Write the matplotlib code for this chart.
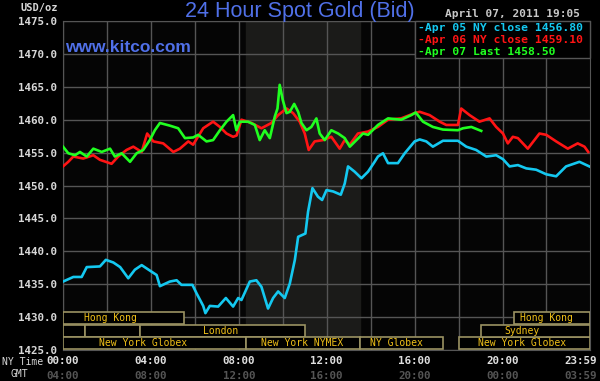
"""
Kitco style 24 hour spot gold chart
"""
import matplotlib.pyplot as plt
import matplotlib.patches as patches
from matplotlib import transforms

# time in hours (NY time), prices in USD/oz
apr05_hours = [0.0, 0.47, 0.85, 1.08, 1.68, 1.95, 2.29, 2.6, 2.97, 3.27, 3.58, 4.03, 4.26, 4.41,
               4.86, 5.17, 5.39, 5.89, 6.08, 6.38, 6.48, 6.68, 7.06, 7.41, 7.74, 7.97, 8.12, 8.5,
               8.8, 9.03, 9.33, 9.56, 9.79, 10.09, 10.32, 10.55, 10.7, 11.03, 11.15, 11.35, 11.6,
               11.79, 11.99, 12.29, 12.64, 12.82, 12.97, 13.27, 13.58, 13.88, 14.18, 14.33, 14.56,
               14.79, 15.24, 15.55, 16.0, 16.23, 16.53, 16.83, 17.29, 17.97, 18.35, 18.8, 19.26,
               19.71, 20.02, 20.32, 20.7, 21.08, 21.53, 21.99, 22.44, 22.89, 23.5, 23.95]
apr05_price = [1435.4, 1436.1, 1436.1, 1437.6, 1437.7, 1438.7, 1438.3, 1437.6, 1435.9, 1437.2,
               1437.9, 1436.9, 1436.4, 1434.7, 1435.4, 1435.6, 1434.9, 1434.9, 1433.6, 1431.7,
               1430.6, 1431.7, 1431.6, 1432.9, 1431.6, 1432.9, 1432.6, 1435.4, 1435.6, 1434.6,
               1431.3, 1432.9, 1433.9, 1432.9, 1435.1, 1438.7, 1442.2, 1442.7, 1446.0, 1449.6,
               1448.3, 1447.8, 1449.3, 1449.1, 1448.6, 1450.3, 1452.9, 1452.1, 1451.1, 1452.1,
               1453.6, 1454.4, 1454.9, 1453.4, 1453.4, 1454.9, 1456.7, 1457.0, 1456.7, 1455.9,
               1456.8, 1456.8, 1455.9, 1455.4, 1454.4, 1454.6, 1454.0, 1452.9, 1453.1, 1452.6,
               1452.4, 1451.7, 1451.4, 1452.9, 1453.6, 1452.9]

apr06_hours = [0.0, 0.24, 0.47, 0.92, 1.38, 1.68, 2.21, 2.51, 2.89, 3.2, 3.58, 3.83, 4.11, 4.56,
               5.02, 5.32, 5.7, 5.92, 6.38, 6.83, 7.14, 7.44, 7.74, 7.9, 8.12, 8.58, 9.03, 9.48,
               9.79, 10.17, 10.47, 10.77, 11.0, 11.18, 11.45, 11.83, 12.21, 12.59, 12.82, 13.05,
               13.42, 13.88, 14.33, 14.79, 15.39, 16.0, 16.23, 16.68, 17.14, 17.44, 17.97, 18.12,
               18.5, 18.95, 19.41, 19.71, 20.02, 20.24, 20.47, 20.7, 21.15, 21.68, 21.99, 22.44,
               22.97, 23.42, 23.73, 23.9]
apr06_price = [1452.9, 1453.6, 1454.4, 1454.1, 1454.6, 1453.9, 1453.3, 1454.4, 1455.4, 1455.9,
               1455.1, 1457.9, 1456.7, 1456.4, 1455.1, 1455.6, 1456.7, 1456.2, 1458.7, 1459.7,
               1458.9, 1457.9, 1457.4, 1457.6, 1460.0, 1459.5, 1458.7, 1459.5, 1460.7, 1461.7,
               1461.0, 1459.7, 1457.9, 1455.4, 1456.7, 1456.9, 1457.4, 1455.6, 1456.9, 1456.2,
               1457.9, 1458.2, 1458.9, 1460.0, 1460.2, 1461.0, 1461.2, 1460.7, 1459.7, 1459.2,
               1459.2, 1461.7, 1460.7, 1459.7, 1460.2, 1458.9, 1457.9, 1456.4, 1457.4, 1457.2,
               1455.6, 1457.9, 1457.7, 1456.7, 1455.6, 1456.4, 1455.9, 1455.1]

apr07_hours = [0.0, 0.24, 0.55, 0.77, 1.08, 1.38, 1.76, 2.14, 2.36, 2.67, 3.05, 3.35, 3.65, 3.95,
               4.18, 4.41, 4.86, 5.24, 5.55, 5.92, 6.15, 6.53, 6.83, 7.14, 7.44, 7.74, 7.89, 8.05,
               8.42, 8.73, 8.95, 9.18, 9.41, 9.64, 9.76, 9.86, 10.0, 10.17, 10.32, 10.52, 10.7,
               10.85, 11.08, 11.3, 11.53, 11.68, 11.91, 12.21, 12.52, 12.82, 13.05, 13.35, 13.65,
               13.88, 14.33, 14.79, 15.39, 15.85, 16.05, 16.38, 16.83, 17.29, 17.97, 18.2, 18.58,
               19.03]
apr07_price = [1455.9, 1454.9, 1454.6, 1455.1, 1454.4, 1455.6, 1455.1, 1455.6, 1454.4, 1454.9,
               1453.6, 1454.9, 1455.4, 1456.9, 1458.4, 1459.5, 1459.1, 1458.7, 1457.2, 1457.3,
               1457.7, 1456.7, 1456.9, 1458.4, 1459.7, 1460.7, 1458.4, 1459.7, 1459.7, 1459.2,
               1456.9, 1458.4, 1457.2, 1460.5, 1461.7, 1465.3, 1463.0, 1461.0, 1461.2, 1462.4,
               1461.2, 1459.5, 1458.4, 1458.9, 1460.2, 1457.9, 1456.9, 1458.4, 1457.9, 1457.2,
               1455.9, 1456.9, 1457.9, 1457.7, 1459.2, 1460.2, 1460.0, 1460.7, 1461.1, 1459.7,
               1458.9, 1458.5, 1458.4, 1458.7, 1458.9, 1458.3]

legend_labels = ["-Apr 05 NY close 1456.80", "-Apr 06 NY close 1459.10", "-Apr 07 Last 1458.50"]

y_ticks = [1425, 1430, 1435, 1440, 1445, 1450, 1455, 1460, 1465, 1470, 1475]
ny_hours = [0, 4, 8, 12, 16, 20, 23.98]
ny_labels = ["00:00", "04:00", "08:00", "12:00", "16:00", "20:00", "23:59"]
gmt_labels = ["04:00", "08:00", "12:00", "16:00", "20:00", "00:00", "03:59"]

# trading sessions: (row, start hour, end hour, label)  row 0 is the bottom row
sessions = [
    (2, 0.0, 5.5, "Hong Kong"),
    (1, 0.0, 1.0, ""),
    (1, 1.0, 3.5, ""),
    (1, 3.5, 11.0, "London"),
    (0, 0.0, 8.33, "New York Globex"),
    (0, 8.33, 13.5, "New York NYMEX"),
    (0, 13.5, 17.3, "NY Globex"),
    (0, 18.0, 23.98, "New York Globex"),
    (1, 19.0, 23.98, "Sydney"),
    (2, 20.5, 23.98, "Hong Kong"),
]
label_pos = [2.15, None, None, 7.15, 3.65, 10.9, 15.15, 20.9, 20.9, 22.0]

nymex_open, nymex_close = 8.33, 13.5

bg = 'black'
grid_col = '#555555'
mono = 'DejaVu Sans Mono'

fig = plt.figure(figsize=(6, 3.81), dpi=100, facecolor=bg)
ax = fig.add_axes([63 / 600, 1 - 350 / 381, 527 / 600, 329 / 381], facecolor='#050505')

# shaded NYMEX pit session
ax.axvspan(nymex_open, nymex_close, color='#1b1b19', zorder=0)

ax.set_xlim(0, 23.98)
ax.set_ylim(1425, 1475)
ax.set_yticks(y_ticks)
ax.set_xticks(range(0, 24, 2))
ax.grid(True, color=grid_col, linewidth=1.0, zorder=1)
ax.tick_params(length=0, labelbottom=False)
ax.set_yticklabels([f"{v:.1f}" for v in y_ticks], fontfamily=mono, fontweight='bold',
                   fontsize=7.8, color='#d8d8d8')
ax.tick_params(axis='y', pad=4)
for s in ax.spines.values():
    s.set_color(grid_col)

# price lines
ax.plot(apr05_hours, apr05_price, color='#14c8f0', linewidth=1.9, zorder=5)
ax.plot(apr06_hours, apr06_price, color='#ff1414', linewidth=1.9, zorder=5)
ax.plot(apr07_hours, apr07_price, color='#20ff20', linewidth=1.9, zorder=6)

# session boxes along the bottom, x in hours and y in axes fraction
trans = transforms.blended_transform_factory(ax.transData, ax.transAxes)
row_bottom = [0.003, 0.040, 0.079]
row_h = 0.036
for (row, start, end, name), lx in zip(sessions, label_pos):
    rect = patches.Rectangle((start, row_bottom[row]), end - start, row_h, transform=trans,
                             facecolor='black', edgecolor='#9a9262', linewidth=1.2, zorder=3)
    ax.add_patch(rect)
    if name:
        ax.text(lx, row_bottom[row] + row_h / 2, name, transform=trans, ha='center',
                va='center', fontfamily=mono, fontsize=7, color='#f0c018', zorder=4)

# x labels, NY time on top and GMT underneath
# the last label sits left of the right edge so it isn't cut off
for i, (h, ny, gmt) in enumerate(zip(ny_hours, ny_labels, gmt_labels)):
    ha = 'right' if i == len(ny_hours) - 1 else 'center'
    x = h + 0.3 if i == len(ny_hours) - 1 else h
    ax.text(x, -0.032, ny, transform=trans, ha=ha, va='center', fontfamily=mono,
            fontweight='bold', fontsize=7.8, color='#e0e0e0')
    ax.text(x, -0.08, gmt, transform=trans, ha=ha, va='center', fontfamily=mono,
            fontweight='bold', fontsize=7.8, color='#555555')
fig.text(23 / 600, 1 - 362 / 381, "NY Time", ha='center', va='center', fontfamily=mono,
         fontsize=7, color='#d8d8d8')
fig.text(19 / 600, 1 - 374 / 381, "GMT", ha='center', va='center', fontfamily=mono,
         fontsize=7, color='#d8d8d8')

# headers
fig.text(39 / 600, 1 - 8 / 381, "USD/oz", ha='center', va='center', fontfamily=mono,
         fontweight='bold', fontsize=7.5, color='#d8d8d8')
fig.text(300 / 600, 1 - 11 / 381, "24 Hour Spot Gold (Bid)", ha='center', va='center',
         fontfamily='Liberation Sans', fontsize=15.5, color='#5070e8')
ax.text(65 / 600, 1 - 47 / 381, "www.kitco.com", transform=fig.transFigure, ha='left',
        va='center', fontfamily='Liberation Sans', fontweight='bold', fontsize=12.5,
        color='#5070e8', zorder=7)
fig.text(580 / 600, 1 - 14 / 381, "April 07, 2011 19:05", ha='right', va='center',
         fontfamily=mono, fontweight='bold', fontsize=8, color='#c8c8c8')

# legend box top right
leg = patches.Rectangle((415 / 600, 1 - 58 / 381), 175 / 600, 37 / 381, transform=fig.transFigure,
                        facecolor='black', edgecolor=grid_col, linewidth=1.0, zorder=8)
ax.add_patch(leg)
leg.set_clip_on(False)
for i, (lbl, col) in enumerate(zip(legend_labels, ['#14c8f0', '#ff1414', '#20ff20'])):
    ax.text(418 / 600, 1 - (28 + 12 * i) / 381, lbl, transform=fig.transFigure, ha='left',
            va='center', fontfamily=mono, fontweight='bold', fontsize=8.2, color=col, zorder=9)

fig.savefig('out.png', dpi=100, facecolor=bg)
